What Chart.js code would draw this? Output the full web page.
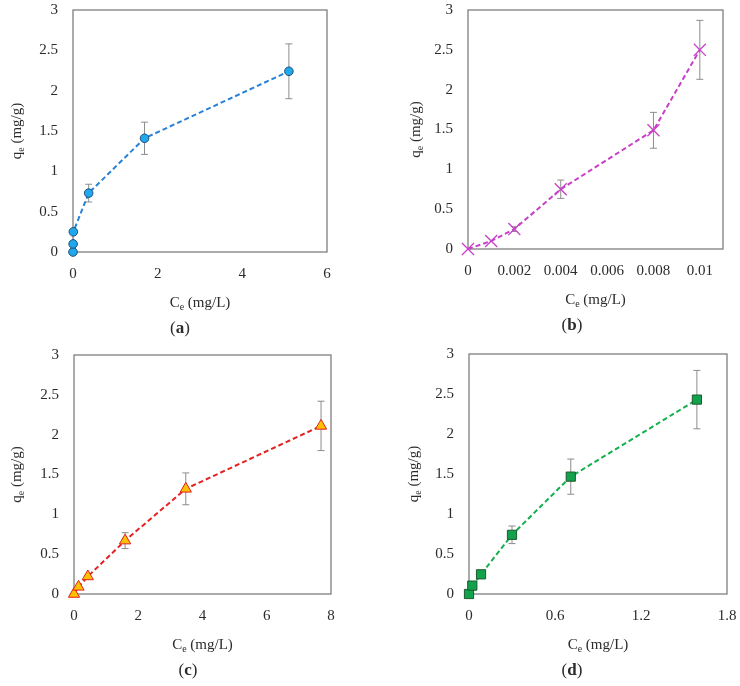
<!DOCTYPE html>
<html>
<head>
<meta charset="utf-8">
<script src="https://cdn.jsdelivr.net/npm/chart.js@4.4.0/dist/chart.umd.min.js"></script>
<style>
  body { margin: 0; background: #fff; }
  #wrap { position: relative; width: 740px; height: 686px; }
  .panel { position: absolute; width: 370px; height: 343px; }
</style>
</head>
<body>
<div id="wrap">
  <div class="panel" style="left:0;top:0"><canvas id="chartA"></canvas></div>
  <div class="panel" style="left:370px;top:0"><canvas id="chartB"></canvas></div>
  <div class="panel" style="left:0;top:343px"><canvas id="chartC"></canvas></div>
  <div class="panel" style="left:370px;top:343px"><canvas id="chartD"></canvas></div>
</div>
<script>
// === data ===
const ceA = [0, 0.003, 0.008, 0.37, 1.69, 5.10];
const qeA = [0, 0.10, 0.25, 0.73, 1.41, 2.24];
const errA = [0, 0, 0, 0.11, 0.20, 0.34];
const xTicksA = [0, 2, 4, 6];

const ceB = [0, 0.001, 0.002, 0.004, 0.008, 0.010];
const qeB = [0, 0.10, 0.25, 0.75, 1.49, 2.50];
const errB = [0, 0, 0.03, 0.115, 0.225, 0.37];
const xTicksB = [0, 0.002, 0.004, 0.006, 0.008, 0.01];

const ceC = [0, 0.14, 0.43, 1.59, 3.48, 7.69];
const qeC = [0, 0.09, 0.22, 0.67, 1.32, 2.11];
const errC = [0, 0, 0, 0.10, 0.20, 0.31];
const xTicksC = [0, 2, 4, 6, 8];

const ceD = [0, 0.023, 0.084, 0.30, 0.71, 1.59];
const qeD = [0, 0.105, 0.246, 0.74, 1.467, 2.43];
const errD = [0, 0, 0, 0.11, 0.22, 0.365];
const xTicksD = [0, 0.6, 1.2, 1.8];

const yTicks = [0, 0.5, 1, 1.5, 2, 2.5, 3];

const FONT = "'Liberation Serif', 'Times New Roman', serif";
const TEXT = "#2b2b2b";

// text with a subscript, centered at x, baseline y
function subText(ctx, main, sub, rest, x, y) {
  ctx.font = "15px " + FONT;
  const w1 = ctx.measureText(main).width;
  const w3 = ctx.measureText(rest).width;
  ctx.font = "10px " + FONT;
  const w2 = ctx.measureText(sub).width;
  let sx = x - (w1 + w2 + w3) / 2;
  ctx.textAlign = "left";
  ctx.textBaseline = "alphabetic";
  ctx.font = "15px " + FONT;
  ctx.fillText(main, sx, y);
  ctx.font = "10px " + FONT;
  ctx.fillText(sub, sx + w1, y + 3);
  ctx.font = "15px " + FONT;
  ctx.fillText(rest, sx + w1 + w2, y);
}

const decor = {
  id: "decor",
  beforeDatasetsDraw(chart, args, o) {
    const { ctx, chartArea: a, scales } = chart;
    ctx.save();
    // box round plot
    ctx.strokeStyle = "#7f7f7f";
    ctx.lineWidth = 1.3;
    ctx.strokeRect(a.left, a.top, a.right - a.left, a.bottom - a.top);
    // error bars
    const ds = chart.data.datasets[0];
    ctx.strokeStyle = "#8c8c8c";
    ctx.lineWidth = 1;
    ds.data.forEach((p, i) => {
      const e = o.err[i];
      if (!e) return;
      const x = scales.x.getPixelForValue(p.x);
      const y1 = scales.y.getPixelForValue(p.y + e);
      const y2 = scales.y.getPixelForValue(p.y - e);
      ctx.beginPath();
      ctx.moveTo(x, y1); ctx.lineTo(x, y2);
      ctx.moveTo(x - 3.5, y1); ctx.lineTo(x + 3.5, y1);
      ctx.moveTo(x - 3.5, y2); ctx.lineTo(x + 3.5, y2);
      ctx.stroke();
    });
    ctx.restore();
  },
  afterDraw(chart, args, o) {
    const { ctx, chartArea: a } = chart;
    ctx.save();
    ctx.fillStyle = TEXT;
    const cx = (a.left + a.right) / 2;
    subText(ctx, "C", "e", " (mg/L)", cx, a.bottom + 55);
    ctx.save();
    ctx.translate(o.yTitleX, (a.top + a.bottom) / 2);
    ctx.rotate(-Math.PI / 2);
    subText(ctx, "q", "e", " (mg/g)", 0, 5);
    ctx.restore();
    // panel label "(x)" with bold letter
    ctx.font = "17px " + FONT;
    const wp = ctx.measureText("(").width;
    ctx.font = "bold 17px " + FONT;
    const wl = ctx.measureText(o.label).width;
    let lx = o.labelX - (2 * wp + wl) / 2;
    const ly = a.bottom + 81;
    ctx.textAlign = "left";
    ctx.textBaseline = "alphabetic";
    ctx.font = "17px " + FONT;
    ctx.fillText("(", lx, ly);
    ctx.font = "bold 17px " + FONT;
    ctx.fillText(o.label, lx + wp, ly);
    ctx.font = "17px " + FONT;
    ctx.fillText(")", lx + wp + wl, ly);
    ctx.restore();
  }
};

function makePanel(id, ce, qe, err, xTicks, xMax, s) {
  new Chart(document.getElementById(id), {
    type: "scatter",
    data: {
      datasets: [{
        data: ce.map((c, i) => ({ x: c, y: qe[i] })),
        showLine: true,
        borderColor: s.line,
        borderWidth: 2,
        borderDash: [5, 3],
        tension: 0,
        pointStyle: s.marker,
        pointRadius: s.radius,
        pointBorderWidth: s.markerBorderWidth,
        pointBackgroundColor: s.fill,
        pointBorderColor: s.edge,
        clip: false,
      }],
    },
    options: {
      responsive: true,
      maintainAspectRatio: false,
      animation: false,
      layout: { padding: { left: 0, top: s.top, right: s.right, bottom: 0 } },
      plugins: {
        legend: { display: false },
        tooltip: { enabled: false },
        decor: { err: err, label: s.label, labelX: s.labelX, yTitleX: s.yTitleX },
      },
      scales: {
        x: {
          type: "linear",
          min: 0,
          max: xMax,
          grid: { display: false, drawTicks: false },
          border: { display: false },
          afterBuildTicks: (axis) => { axis.ticks = xTicks.map((v) => ({ value: v })); },
          afterFit: (axis) => {
            axis.height = s.xHeight;
            axis.paddingLeft = 0; axis.paddingRight = 0;
          },
          ticks: {
            font: { family: FONT, size: 15 },
            color: TEXT,
            padding: 13,
            maxRotation: 0,
            callback: (v) => String(v),
          },
        },
        y: {
          min: 0,
          max: 3,
          grid: { display: false, drawTicks: false },
          border: { display: false },
          afterBuildTicks: (axis) => { axis.ticks = yTicks.map((v) => ({ value: v })); },
          afterFit: (axis) => {
            axis.width = s.yWidth;
            axis.paddingTop = 0; axis.paddingBottom = 0;
          },
          ticks: {
            font: { family: FONT, size: 15 },
            color: TEXT,
            padding: 15,
            callback: (v) => String(v),
          },
        },
      },
    },
    plugins: [decor],
  });
}

makePanel("chartA", ceA, qeA, errA, xTicksA, 6, {
  line: "#2781d6", marker: "circle", radius: 4.3, markerBorderWidth: 1,
  fill: "#1fa8ec", edge: "#1f4e79",
  top: 10, right: 43, yWidth: 73, xHeight: 91,
  label: "a", labelX: 180, yTitleX: 16,
});
makePanel("chartB", ceB, qeB, errB, xTicksB, 0.011, {
  line: "#c83fc8", marker: "crossRot", radius: 8.5, markerBorderWidth: 1.3,
  fill: "#c83fc8", edge: "#c83fc8",
  top: 10, right: 17, yWidth: 98, xHeight: 94,
  label: "b", labelX: 202, yTitleX: 45,
});
makePanel("chartC", ceC, qeC, errC, xTicksC, 8, {
  line: "#e32222", marker: "triangle", radius: 6.5, markerBorderWidth: 1,
  fill: "#ffc000", edge: "#e02020",
  top: 12, right: 39, yWidth: 74, xHeight: 92,
  label: "c", labelX: 188, yTitleX: 16,
});
makePanel("chartD", ceD, qeD, errD, xTicksD, 1.8, {
  line: "#14b04e", marker: "rect", radius: 6.5, markerBorderWidth: 1,
  fill: "#12a14c", edge: "#1d5a2c",
  top: 11, right: 13, yWidth: 99, xHeight: 92,
  label: "d", labelX: 202, yTitleX: 43,
});
</script>
</body>
</html>
